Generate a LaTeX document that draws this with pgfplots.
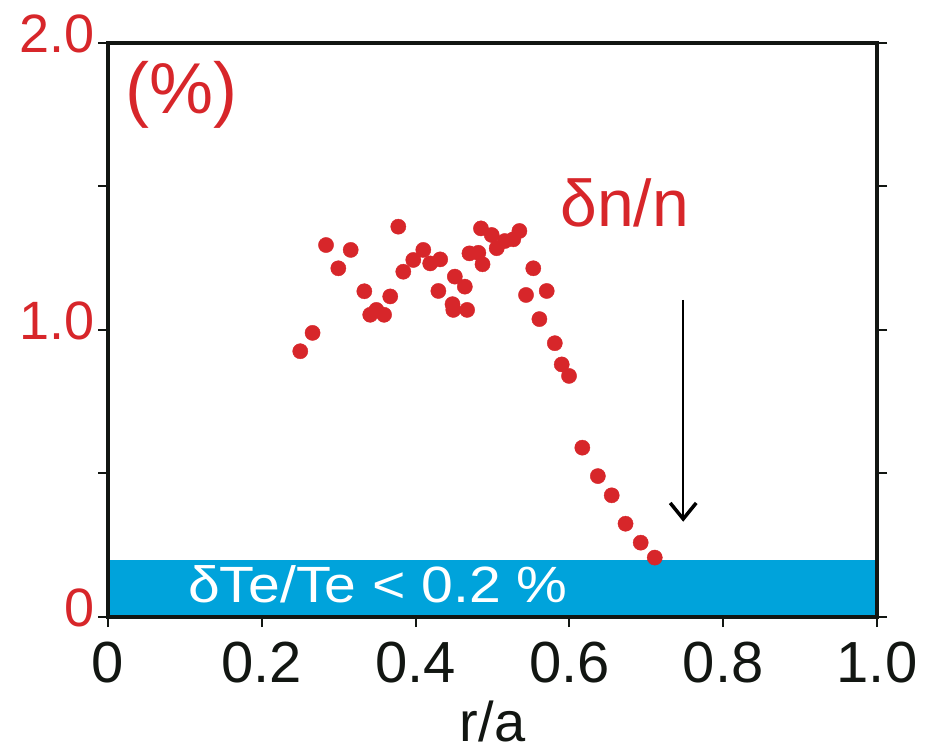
\documentclass[border=0pt]{standalone}
\usepackage{fontspec}
\setmainfont{Liberation Sans}
\usepackage{graphicx}
\usepackage{pgfplots}
\pgfplotsset{compat=1.18}
\usetikzlibrary{arrows.meta}
\definecolor{dotred}{RGB}{215,38,42}
\definecolor{bandblue}{RGB}{0,163,219}
\definecolor{inkblack}{RGB}{18,22,18}

\begin{document}
\begin{tikzpicture}[x=1pt,y=1pt]
\path[use as bounding box] (-108,-137) rectangle (820,617);
\begin{axis}[
  at={(0,0)}, anchor=south west,
  scale only axis, width=769pt, height=574pt,
  xmin=0, xmax=1, ymin=0, ymax=2,
  axis on top,
  axis line style={line width=3.5pt, inkblack},
  xtick={0,0.2,0.4,0.6,0.8,1.0},
  xticklabels={0,0.2,0.4,0.6,0.8,1.0},
  ytick={0,0.5,1,1.5,2},
  yticklabels={0,{},1.0,{},2.0},
  xtick pos=bottom, ytick pos=both,
  yticklabel pos=left,
  tick align=outside,
  major tick length=10pt,
  tick style={line width=2pt, inkblack},
  /pgf/number format/assume math mode=true,
  xticklabel style={font=\fontsize{58}{60}\selectfont, text=inkblack,
    anchor=north, inner sep=0pt, yshift=-15pt},
  yticklabel style={font=\fontsize{54}{60}\selectfont, text=dotred,
    anchor=east, inner sep=0pt, xshift=-3pt, yshift=9pt},
  xlabel={r/a},
  xlabel style={font=\fontsize{56}{60}\selectfont, text=inkblack,
    at={(axis description cs:0.5,0)}, anchor=base, inner sep=0pt, yshift=-124pt},
  clip=false,
]
% amplitude band for the electron temperature fluctuation
\addplot[draw=none, fill=bandblue] coordinates {(0,0) (0,0.2) (1,0.2) (1,0)} -- cycle;

% density fluctuation amplitude
\addplot[only marks, mark=*, mark size=7.6pt, draw=dotred, fill=dotred,
  mark options={draw=dotred, fill=dotred}] coordinates {
(0.250,0.926) (0.266,0.990) (0.2835,1.296) (0.2995,1.215) (0.3156,1.279)
(0.3333,1.135) (0.341,1.053) (0.349,1.070) (0.359,1.053) (0.367,1.117)
(0.3775,1.360) (0.384,1.203) (0.397,1.244) (0.410,1.279) (0.419,1.232)
(0.4296,1.136) (0.432,1.246) (0.448,1.090) (0.449,1.070) (0.451,1.186)
(0.464,1.151) (0.467,1.070) (0.470,1.267) (0.4816,1.269) (0.485,1.354)
(0.487,1.229) (0.499,1.331) (0.5055,1.285) (0.516,1.310) (0.527,1.316)
(0.535,1.345) (0.5436,1.122) (0.553,1.215) (0.561,1.038) (0.5705,1.136)
(0.581,0.954) (0.590,0.880) (0.5995,0.840) (0.6168,0.590) (0.637,0.491)
(0.655,0.424) (0.673,0.325) (0.6927,0.259) (0.711,0.207)
};

% arrow toward the band
\addplot[line width=2pt, black, -{Straight Barb[length=16pt,width=26pt,line width=3.5pt]}]
  coordinates {(0.748,1.105) (0.748,0.332)};

\node[anchor=base west, inner sep=0pt, text=dotred, font=\fontsize{72}{72}\selectfont]
  at (axis cs:0.022,1.756) {(\%)};
\node[anchor=base west, inner sep=0pt, text=dotred, font=\fontsize{66}{66}\selectfont]
  at (axis cs:0.588,1.359) {δn/n};
\node[anchor=base west, inner sep=0pt, text=white, font=\fontsize{51}{51}\selectfont]
  at (axis cs:0.104,0.052) {\scalebox{1.12}[1]{δTe/Te < 0.2 \%}};
\end{axis}
\end{tikzpicture}
\end{document}
